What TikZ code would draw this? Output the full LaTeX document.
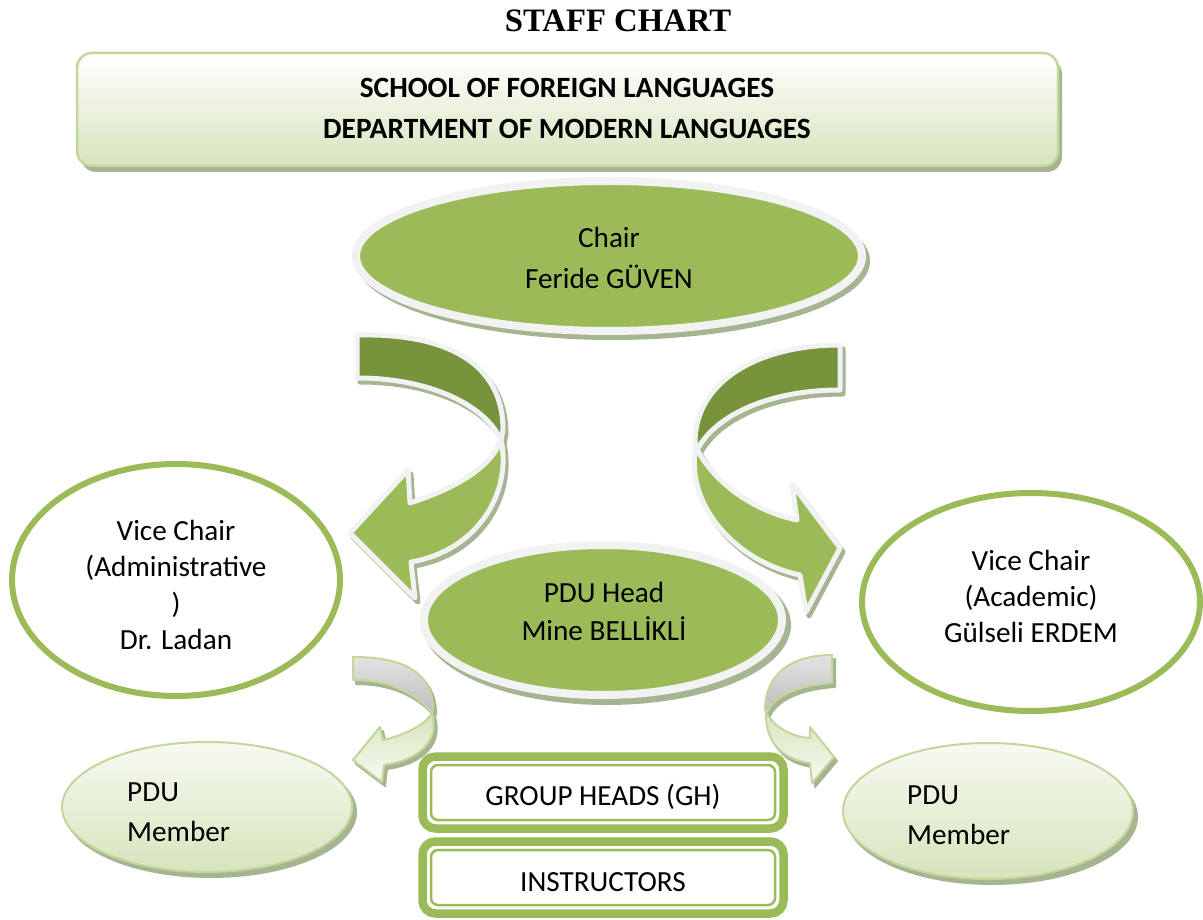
\documentclass[tikz,border=0pt]{standalone}
\usepackage{fontspec}
\setmainfont{Carlito}
\newfontfamily\titlefont{Liberation Serif}
\definecolor{gmain}{HTML}{9BBB59}
\definecolor{gdark}{HTML}{77933C}
\definecolor{gedge}{HTML}{F2F2F2}
\definecolor{gshadow}{HTML}{A5B592}
\definecolor{glight}{HTML}{D7E4BD}
\definecolor{gline}{HTML}{C3D69B}
\definecolor{gpale}{HTML}{F7FAF1}
\definecolor{ggrayA}{HTML}{E3E3E3}
\definecolor{ggrayB}{HTML}{BDBDBD}
% arrow outlines
\newcommand\bigLdark[1]{\path[#1] (357,335) .. controls (445,333) and (503,362) .. (503,430) -- (501,440) .. controls (485,405) and (430,378) .. (357,378) -- cycle;}
\newcommand\bigLlight[1]{\path[#1] (501,440) .. controls (512,490) and (480,550) .. (411,562) -- (415,598) -- (350,533) -- (408,470) -- (410,503) .. controls (450,490) and (490,470) .. (501,440) -- cycle;}
\newcommand\bigRdark[1]{\path[#1] (840,345) .. controls (760,345) and (695,380) .. (695,443) -- (697,450) .. controls (715,415) and (770,390) .. (840,390) -- cycle;}
\newcommand\bigRlight[1]{\path[#1] (696,447) .. controls (685,500) and (730,560) .. (800,575) -- (806,612) -- (840,548) -- (792,484) -- (797,520) .. controls (750,510) and (712,480) .. (696,447) -- cycle;}
\newcommand\smLdark[1]{\path[#1] (353,657) .. controls (400,657) and (433,670) .. (433,710) -- (432,713) .. controls (420,698) and (395,680) .. (353,680) -- cycle;}
\newcommand\smLlight[1]{\path[#1] (432,713) .. controls (440,740) and (420,760) .. (384,765) -- (382,782) -- (353,760) -- (380,727) -- (383,740) .. controls (405,735) and (425,725) .. (432,713) -- cycle;}
\newcommand\smRdark[1]{\path[#1] (832,655) -- (832,683) .. controls (800,685) and (775,695) .. (767,712) -- (765,710) .. controls (765,675) and (790,655) .. (832,655) -- cycle;}
\newcommand\smRlight[1]{\path[#1] (766,712) .. controls (765,745) and (785,760) .. (810,763) -- (812,783) -- (834,757) -- (810,727) -- (810,738) .. controls (790,737) and (772,725) .. (766,712) -- cycle;}
\begin{document}
\begin{tikzpicture}[x=1pt,y=-1pt,
  txt/.style={font=\fontsize{29.2}{37}\selectfont, align=center, inner sep=0pt},
  bigshadow/.style={fill=gshadow, draw=gshadow, line width=5pt, line join=round, shift={(3,4)}},
  bigdark/.style={fill=gdark, draw=gedge, line width=5pt, line join=round},
  biglight/.style={fill=gmain, draw=gedge, line width=5pt, line join=round},
  smshadow/.style={fill=gshadow, draw=gshadow, line width=2pt, line join=round, shift={(3,4)}},
  smdark/.style={top color=ggrayA, bottom color=ggrayB, draw=gline, line width=2pt, line join=round},
  smlight/.style={top color=glight, bottom color=gpale, draw=gline, line width=2pt, line join=round},
  greenoval/.style={fill=gmain, draw=gedge, line width=8pt},
  viceoval/.style={fill=white, draw=gmain, line width=6pt},
  memberoval/.style={top color=gpale, bottom color=glight, draw=gline, line width=2pt},
  shadowfill/.style={fill=gshadow},
  boxouter/.style={draw=gmain, line width=8.5pt, rounded corners=13pt, fill=white},
  boxinner/.style={draw=gmain, line width=2.5pt, rounded corners=7pt}]
\useasboundingbox (0,0) rectangle (1203,920);
\fill[white] (0,0) rectangle (1203,920);

% title
\node[inner sep=0pt, font=\titlefont\bfseries\fontsize{32.7}{38}\selectfont] (title) at (618,21) {STAFF CHART};

% header
\fill[shadowfill, rounded corners=15pt] (81,59) rectangle (1062,172);
\path[top color=white, bottom color=glight, draw=gline, line width=2.5pt, rounded corners=15pt] (77,53) rectangle (1058,166);
\node[txt, font=\bfseries\fontsize{29.4}{41}\selectfont] (header) at (567,108) {SCHOOL OF FOREIGN LANGUAGES\\DEPARTMENT OF MODERN LANGUAGES};

% big arrows
\bigLdark{bigshadow}
\bigLlight{bigshadow}
\bigRdark{bigshadow}
\bigRlight{bigshadow}
\bigLdark{bigdark}
\bigLlight{biglight}
\bigRdark{bigdark}
\bigRlight{biglight}

% small arrows
\smLdark{smshadow}
\smLlight{smshadow}
\smRdark{smshadow}
\smRlight{smshadow}
\smLdark{smdark}
\smLlight{smlight}
\smRdark{smdark}
\smRlight{smlight}

% chair
\fill[shadowfill] (613,261) ellipse [x radius=257, y radius=79];
\draw[greenoval] (609,256) ellipse [x radius=253, y radius=75];
\node[txt, font=\fontsize{29.2}{41}\selectfont] (chair) at (609,258) {Chair\\Feride GÜVEN};

% PDU head
\fill[shadowfill] (607,625) ellipse [x radius=184, y radius=80];
\draw[greenoval] (603,620) ellipse [x radius=179, y radius=75];
\node[txt, font=\fontsize{29.2}{38}\selectfont] (pduhead) at (604,611) {PDU Head\\Mine BELLİKLİ};

% vice chairs
\draw[viceoval] (176,580) ellipse [x radius=164, y radius=116];
\node[txt, font=\fontsize{29.2}{36.5}\selectfont] (viceadm) at (176,585) {Vice Chair\\(Administrative\\)\\Dr. Ladan};
\draw[viceoval] (1031,602) ellipse [x radius=169, y radius=109];
\node[txt, font=\fontsize{29.2}{36}\selectfont] (viceacad) at (1031,596) {Vice Chair\\(Academic)\\Gülseli ERDEM};

% PDU members
\fill[shadowfill] (211,812) ellipse [x radius=146, y radius=66];
\path[memberoval] (207,807) ellipse [x radius=145, y radius=65];
\node[txt, align=left, anchor=west, font=\fontsize{29.2}{40}\selectfont] (memL) at (127,812) {PDU\\Member};
\fill[shadowfill] (992,817) ellipse [x radius=146, y radius=68];
\path[memberoval] (988,811) ellipse [x radius=145, y radius=68];
\node[txt, align=left, anchor=west, font=\fontsize{29.2}{40}\selectfont] (memR) at (907,815) {PDU\\Member};

% boxes
\draw[boxouter] (422.5,756.5) rectangle (783.5,828.5);
\draw[boxinner] (431,765) rectangle (775,820);
\node[txt] (gh) at (603,797) {GROUP HEADS (GH)};
\draw[boxouter] (422.5,841.5) rectangle (783.5,913.5);
\draw[boxinner] (431,850) rectangle (775,905);
\node[txt] (instr) at (603,882) {INSTRUCTORS};
\end{tikzpicture}
\end{document}
